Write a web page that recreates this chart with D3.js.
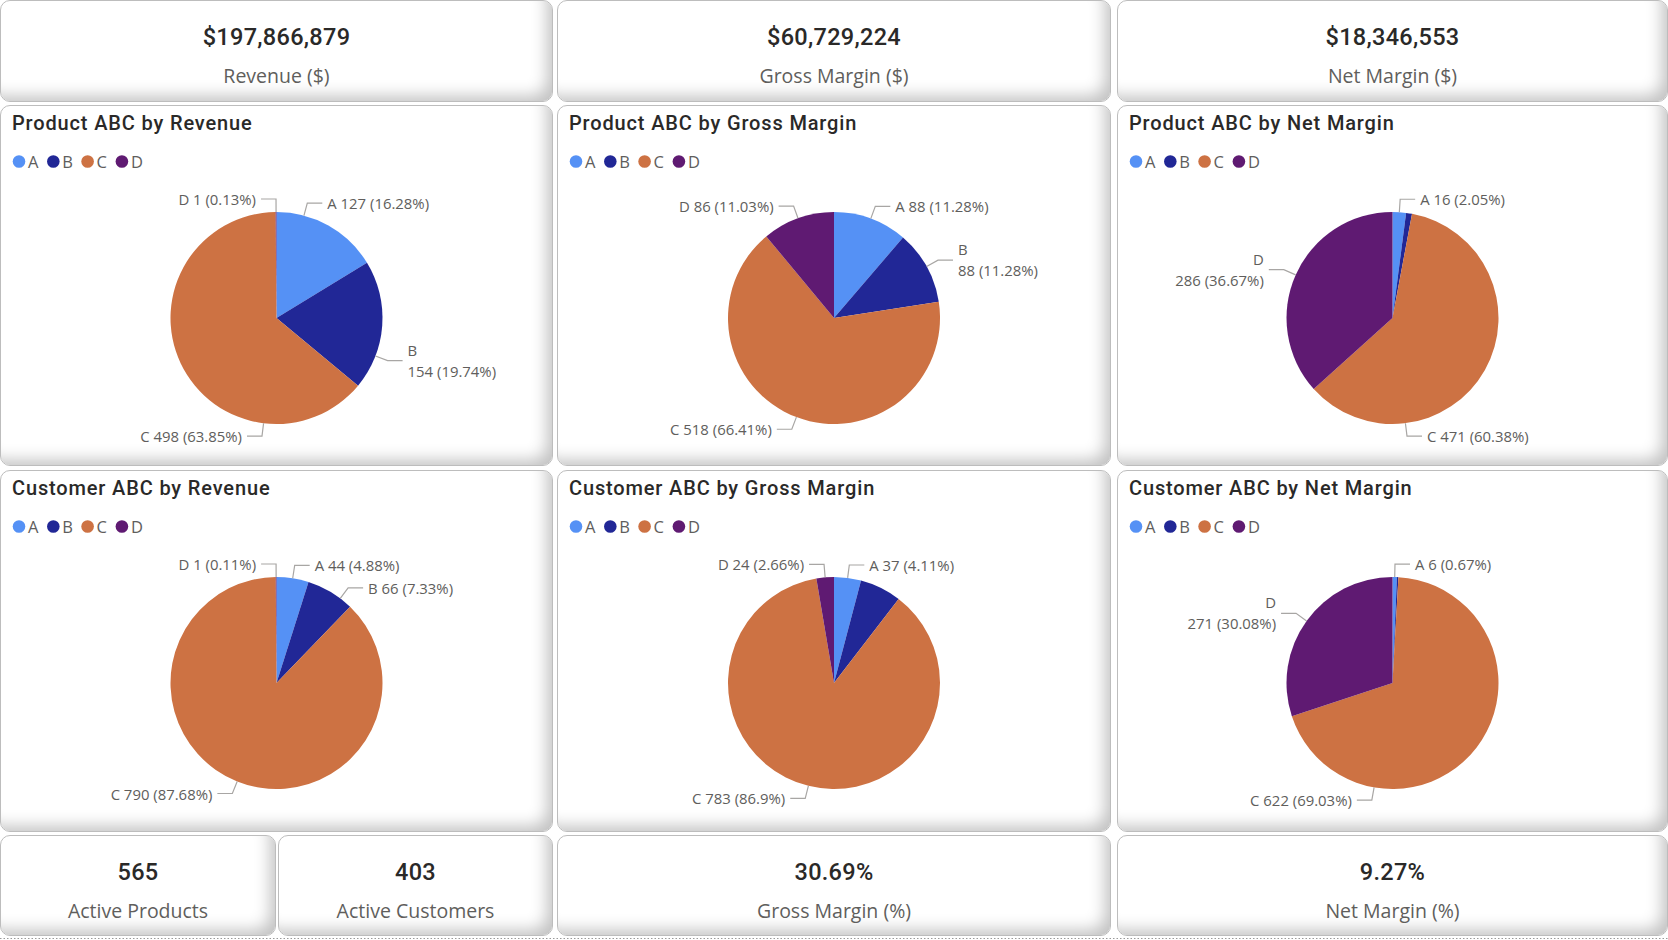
<!DOCTYPE html>
<html><head><meta charset="utf-8">
<script src="https://cdn.jsdelivr.net/npm/d3@7"></script>
<style>
html,body{margin:0;padding:0;background:#fff;width:1668px;height:940px;overflow:hidden;}
#root{position:relative;width:1668px;height:940px;}
.card{position:absolute;box-sizing:border-box;background:#fff;border:1px solid #bdbdbd;border-radius:10px;
 box-shadow: inset -11px -11px 16px -6px rgba(0,0,0,0.24);}
svg{position:absolute;left:0;top:0;}
</style></head><body><div id="root"></div><script>
// ---------------- data ----------------
const categories = ["A", "B", "C", "D"];
const categoryColors = ["#5591F5", "#212796", "#CD7243", "#5F1A72"];

const productRevenue      = [127, 154, 498, 1];
const productGrossMargin  = [88, 88, 518, 86];
const productNetMargin    = [16, 7, 471, 286];
const customerRevenue     = [44, 66, 790, 1];
const customerGrossMargin = [37, 57, 783, 24];
const customerNetMargin   = [6, 2, 622, 271];

const chartTitles = ["Product ABC by Revenue", "Product ABC by Gross Margin", "Product ABC by Net Margin",
                     "Customer ABC by Revenue", "Customer ABC by Gross Margin", "Customer ABC by Net Margin"];
const chartSeries = [productRevenue, productGrossMargin, productNetMargin,
                     customerRevenue, customerGrossMargin, customerNetMargin];

const kpiTopValues = ["$197,866,879", "$60,729,224", "$18,346,553"];
const kpiTopLabels = ["Revenue ($)", "Gross Margin ($)", "Net Margin ($)"];
const kpiBottomValues = ["565", "403", "30.69%", "9.27%"];
const kpiBottomLabels = ["Active Products", "Active Customers", "Gross Margin (%)", "Net Margin (%)"];

// ------------- label layout options (placement only) -------------
const labelAngleOverride = [{A: 15, B: 111, C: 187}, {}, {C: 173}, {B: 37}, {}, {C: 190}];
const hiddenLabels = [[], [], ["B"], [], ["B"], ["B"]];
const wrappedLabels = [["B"], ["B"], ["D"], [], [], ["D"]];

// ---------------- layout ----------------
const W = 1668, H = 940;
const cols = [{x: 0, w: 553}, {x: 557, w: 554}, {x: 1117, w: 551}];
const rowTop = {y: 0, h: 102}, row1 = {y: 105, h: 361}, row2 = {y: 470, h: 362}, rowBot = {y: 835, h: 101};
const botCols = [{x: 0, w: 276}, {x: 278, w: 275}, {x: 557, w: 554}, {x: 1117, w: 551}];

const root = d3.select("#root");
function card(x, y, w, h) {
  root.append("div").attr("class", "card")
    .style("left", x + "px").style("top", y + "px").style("width", w + "px").style("height", h + "px");
}
cols.forEach(c => { card(c.x, rowTop.y, c.w, rowTop.h); card(c.x, row1.y, c.w, row1.h); card(c.x, row2.y, c.w, row2.h); });
botCols.forEach(c => card(c.x, rowBot.y, c.w, rowBot.h));

const svg = root.append("svg").attr("width", W).attr("height", H);

const TITLE_FONT = "Roboto, 'DejaVu Sans', sans-serif";
const BODY_FONT = "'Open Sans', 'Noto Sans', sans-serif";

// KPI cards
function kpi(cx, top, value, label) {
  svg.append("text").attr("x", cx).attr("y", top + 45).attr("text-anchor", "middle")
    .attr("font-family", TITLE_FONT).attr("font-weight", 500).attr("font-size", 23.5)
    .attr("letter-spacing", 0.3).attr("fill", "#2a2928").text(value);
  svg.append("text").attr("x", cx).attr("y", top + 83).attr("text-anchor", "middle")
    .attr("font-family", BODY_FONT).attr("font-size", 19.5).attr("fill", "#605E5C").text(label);
}
cols.forEach((c, i) => kpi(c.x + c.w / 2, rowTop.y, kpiTopValues[i], kpiTopLabels[i]));
botCols.forEach((c, i) => kpi(c.x + c.w / 2, rowBot.y, kpiBottomValues[i], kpiBottomLabels[i]));

// dotted bottom line
svg.append("line").attr("x1", 0).attr("x2", W).attr("y1", 938.5).attr("y2", 938.5)
  .attr("stroke", "#9a9a9a").attr("stroke-width", 1).attr("stroke-dasharray", "1.5,2");

const color = d3.scaleOrdinal().domain(categories).range(categoryColors);
const fmtPct = v => String(+(v * 100).toFixed(2)) + "%";

chartSeries.forEach((values, i) => {
  const col = cols[i % 3], row = i < 3 ? row1 : row2;
  const g = svg.append("g");
  g.append("text").attr("x", col.x + 12).attr("y", row.y + 25)
    .attr("font-family", TITLE_FONT).attr("font-weight", 500).attr("font-size", 20)
    .attr("letter-spacing", 0.85).attr("fill", "#2a2928").text(chartTitles[i]);

  // legend
  const lx = d3.scalePoint().domain(categories).range([col.x + 19, col.x + 19 + 3 * 34.3]);
  const leg = g.selectAll("g.leg").data(categories).join("g").attr("class", "leg");
  leg.append("circle").attr("cx", d => lx(d)).attr("cy", row.y + 56.5).attr("r", 6.3).attr("fill", d => color(d));
  leg.append("text").attr("x", d => lx(d) + 9).attr("y", row.y + 62.5)
    .attr("font-family", BODY_FONT).attr("font-size", 16.5).attr("fill", "#605E5C").text(d => d);

  // pie
  const cx = col.x + col.w / 2, cy = row.y + 213, r = 106;
  const data = categories.map((c, k) => ({cat: c, value: values[k]}));
  const total = d3.sum(values);
  const arcs = d3.pie().sort(null).value(d => d.value).startAngle(0).endAngle(2 * Math.PI)(data);
  const arc = d3.arc().innerRadius(0).outerRadius(r);
  const pg = g.append("g").attr("transform", `translate(${cx},${cy})`);
  pg.selectAll("path").data(arcs).join("path").attr("d", arc).attr("fill", d => color(d.data.cat));

  // labels
  arcs.forEach(a => {
    const cat = a.data.cat;
    if (hiddenLabels[i].includes(cat) || a.value <= 0) return;
    const ov = labelAngleOverride[i][cat];
    const th = ov != null ? ov * Math.PI / 180 : (a.startAngle + a.endAngle) / 2;
    const sx = Math.sin(th), sy = -Math.cos(th);
    const side = sx >= 0 ? 1 : -1;
    const S = [cx + r * sx, cy + r * sy];
    const E = [cx + (r + 13) * sx, cy + (r + 13) * sy];
    const F = [E[0] + side * 15, E[1]];
    g.append("polyline").attr("points", [S, E, F].map(p => p.join(",")).join(" "))
      .attr("fill", "none").attr("stroke", "#a8a6a4").attr("stroke-width", 1.2);
    const tx = F[0] + side * 5;
    const pct = fmtPct(a.value / total);
    const t = g.append("text").attr("x", tx).attr("text-anchor", side > 0 ? "start" : "end")
      .attr("font-family", BODY_FONT).attr("font-size", 14.9).attr("fill", "#605E5C");
    if (wrappedLabels[i].includes(cat)) {
      t.append("tspan").attr("x", tx).attr("y", E[1] - 10 + 5).text(cat);
      t.append("tspan").attr("x", tx).attr("y", E[1] + 11 + 5).text(`${a.value} (${pct})`);
    } else {
      t.attr("y", E[1] + 6).text(`${cat} ${a.value} (${pct})`);
    }
  });
});
</script></body></html>
